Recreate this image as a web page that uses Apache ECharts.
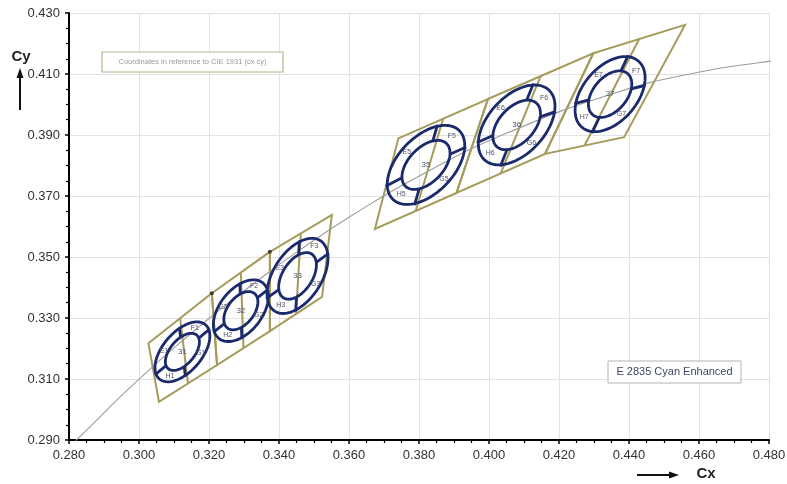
<!DOCTYPE html>
<html>
<head>
<meta charset="utf-8" />
<title>E 2835 Cyan Enhanced</title>
<script src="https://cdn.jsdelivr.net/npm/echarts@6/dist/echarts.min.js"></script>
<style>
  html, body { margin: 0; padding: 0; background: #fff; }
  #chart { width: 787px; height: 484px; }
</style>
</head>
<body>
<div id="chart"></div>
<script>
// planckian locus
var locusX = [0.2807, 0.2867, 0.2952, 0.3064, 0.3135, 0.3221, 0.3324, 0.3451, 0.3608, 0.3805, 0.4053, 0.4369, 0.4599, 0.4770, 0.4865];
var locusY = [0.2884, 0.2951, 0.3048, 0.3166, 0.3236, 0.3318, 0.3410, 0.3516, 0.3636, 0.3768, 0.3907, 0.4041, 0.4106, 0.4137, 0.4148];

// bin quadrangles (olive) - corner points along the top and bottom edge of each group
var leftTopX = [0.3027, 0.3208, 0.3374, 0.3551];
var leftTopY = [0.3217, 0.3381, 0.3517, 0.3638];
var leftBotX = [0.3057, 0.3223, 0.3374, 0.3523];
var leftBotY = [0.3025, 0.3146, 0.3257, 0.3369];
var rightTopX = [0.3741, 0.3997, 0.4298, 0.4560];
var rightTopY = [0.3889, 0.4018, 0.4168, 0.4261];
var rightBotX = [0.3674, 0.3907, 0.4160, 0.4386];
var rightBotY = [0.3592, 0.3710, 0.3838, 0.3893];

// ellipse rings (blue): centre and the two half axes of the outer ellipse (x,y offsets)
var binNames = ['31', '32', '33', '35', '36', '37'];
var subNames = [
  ['E1', 'F1', 'G1', 'H1'],
  ['E2', 'F2', 'G2', 'H2'],
  ['E3', 'F3', 'G3', 'H3'],
  ['E5', 'F5', 'G5', 'H5'],
  ['E6', 'F6', 'G6', 'H6'],
  ['E7', 'F7', 'G7', 'H7']
];
var centerX = [0.3124, 0.3291, 0.3453, 0.3820, 0.4079, 0.4346];
var centerY = [0.3189, 0.3324, 0.3438, 0.3802, 0.3933, 0.4034];
var majorX = [0.00658, 0.00623, 0.00653, 0.00945, 0.00917, 0.00807];
var majorY = [0.00890, 0.00915, 0.01155, 0.01131, 0.01148, 0.01085];
var minorX = [-0.00427, -0.00479, -0.00575, -0.00577, -0.00600, -0.00591];
var minorY = [0.00416, 0.00430, 0.00429, 0.00635, 0.00631, 0.00579];
// spokes (right, top, left, bottom) as angles on the ellipse, degrees
var spokeT = [
  [-17.3, 63.1, 162.7, 243.1],
  [-22.5, 54.4, 157.5, 234.4],
  [-33.9, 45.3, 146.1, 225.3],
  [-34.9, 42.0, 150.7, 222.0],
  [-42.1, 31.9, 144.1, 212.7],
  [-48.8, 23.9, 132.3, 203.9]
];
var innerRatio = 0.62;

var BLUE = '#1a2a6c';
var OLIVE = '#a59c5c';

var locusData = [];
for (var i = 0; i < locusX.length; i++) locusData.push([locusX[i], locusY[i]]);

// small dark marks where the bin borders meet the top edge (left group)
var markData = [[leftTopX[1], leftTopY[1]], [leftTopX[2], leftTopY[2]]];

// one item per bin: corners tl, tr, br, bl
var quads = [];
function addGroup(tx, ty, bx, by) {
  for (var k = 0; k < tx.length - 1; k++) {
    quads.push([[tx[k], ty[k]], [tx[k + 1], ty[k + 1]], [bx[k + 1], by[k + 1]], [bx[k], by[k]]]);
  }
}
addGroup(leftTopX, leftTopY, leftBotX, leftBotY);
addGroup(rightTopX, rightTopY, rightBotX, rightBotY);
var quadData = quads.map(function (q, k) { return [q[0][0], q[0][1], k]; });
var ringData = centerX.map(function (x, k) { return [x, centerY[k], k]; });

function quadItem(params, api) {
  var q = quads[api.value(2)];
  var pts = q.map(function (p) { return api.coord(p); });
  var mt = api.coord([(q[0][0] + q[1][0]) / 2, (q[0][1] + q[1][1]) / 2]);
  var mb = api.coord([(q[3][0] + q[2][0]) / 2, (q[3][1] + q[2][1]) / 2]);
  return {
    type: 'group',
    children: [
      { type: 'polygon', shape: { points: pts }, style: { fill: 'none', stroke: OLIVE, lineWidth: 2 } },
      { type: 'line', shape: { x1: mt[0], y1: mt[1], x2: mb[0], y2: mb[1] }, style: { stroke: OLIVE, lineWidth: 2 } }
    ]
  };
}

function ringItem(params, api) {
  var i = api.value(2);
  // point on the ellipse at angle t (deg), scaled by k
  function pt(t, k) {
    var r = t * Math.PI / 180, c = Math.cos(r) * k, s = Math.sin(r) * k;
    return api.coord([centerX[i] + c * majorX[i] + s * minorX[i], centerY[i] + c * majorY[i] + s * minorY[i]]);
  }
  function ellipse(k) {
    var pts = [];
    for (var s = 0; s < 360; s += 4) pts.push(pt(s, k));
    return pts;
  }
  var line = { stroke: BLUE, lineWidth: 2.8 };
  var children = [
    { type: 'polygon', shape: { points: ellipse(1) }, style: { fill: 'none', stroke: BLUE, lineWidth: 2.8 } },
    { type: 'polygon', shape: { points: ellipse(innerRatio) }, style: { fill: 'none', stroke: BLUE, lineWidth: 2.8 } }
  ];
  var sp = spokeT[i];
  sp.forEach(function (t) {
    var p1 = pt(t, innerRatio), p2 = pt(t, 1.04);
    children.push({ type: 'line', shape: { x1: p1[0], y1: p1[1], x2: p2[0], y2: p2[1] }, style: line });
  });
  var c = api.coord([centerX[i], centerY[i]]);
  var txt = { fill: '#4d5366', fontFamily: 'Liberation Sans', align: 'center', verticalAlign: 'middle' };
  children.push({ type: 'text', x: c[0], y: c[1], style: Object.assign({ text: binNames[i], fontSize: 8 }, txt) });
  // E between top/left, F right/top, G bottom/right, H left/bottom
  var mids = [(sp[1] + sp[2]) / 2, (sp[0] + sp[1]) / 2, (sp[3] + sp[0] + 360) / 2, (sp[2] + sp[3]) / 2];
  mids.forEach(function (t, k) {
    var p = pt(t, 0.81);
    children.push({ type: 'text', x: p[0], y: p[1], style: Object.assign({ text: subNames[i][k], fontSize: 7 }, txt) });
  });
  return { type: 'group', children: children };
}

function axisCommon(min, max) {
  return {
    type: 'value',
    min: min,
    max: max,
    interval: 0.02,
    axisLine: { show: true, onZero: false, lineStyle: { color: '#000', width: 2 } },
    axisTick: { show: true, length: 4, lineStyle: { color: '#000', width: 1.5 } },
    minorTick: { show: true, splitNumber: 4, length: 3, lineStyle: { color: '#000', width: 1.2 } },
    splitLine: { show: true, lineStyle: { color: '#e2e2e2', width: 1 } },
    axisLabel: {
      color: '#333', fontSize: 13, fontFamily: 'Liberation Sans', margin: 9,
      formatter: function (v) { return v.toFixed(3); }
    }
  };
}

var chart = echarts.init(document.getElementById('chart'));
var option = {
  animation: false,
  backgroundColor: '#fff',
  grid: { left: 69, right: 18, top: 13, bottom: 44, containLabel: false, outerBoundsMode: 'none' },
  xAxis: axisCommon(0.28, 0.48),
  yAxis: axisCommon(0.29, 0.43),
  series: [
    { type: 'custom', z: 2, renderItem: quadItem, data: quadData, encode: { x: 0, y: 1 }, silent: true },
    {
      type: 'line', z: 3, data: locusData, showSymbol: false, smooth: true, clip: true,
      lineStyle: { color: '#9c9c9c', width: 1.1 }, silent: true
    },
    { type: 'custom', z: 4, renderItem: ringItem, data: ringData, encode: { x: 0, y: 1 }, silent: true },
    { type: 'scatter', z: 5, data: markData, symbolSize: 4, itemStyle: { color: '#222' }, silent: true }
  ],
  graphic: [
    { type: 'rect', z: 100, shape: { x: 102, y: 52, width: 181, height: 20 }, style: { fill: '#fff', stroke: '#b9b18c', lineWidth: 1.2 } },
    { type: 'text', z: 101, x: 192.5, y: 62, style: { text: 'Coordinates in reference to CIE 1931 (cx cy)', fill: '#9a9a9a', fontSize: 7.5, fontFamily: 'Liberation Sans', align: 'center', verticalAlign: 'middle' } },
    { type: 'rect', z: 100, shape: { x: 608, y: 361, width: 133, height: 22 }, style: { fill: '#fff', stroke: '#b3b3b3', lineWidth: 1 } },
    { type: 'text', z: 101, x: 674.5, y: 372, style: { text: 'E 2835 Cyan Enhanced', fill: '#3d4a63', fontSize: 11, fontFamily: 'Liberation Sans', align: 'center', verticalAlign: 'middle' } },
    { type: 'text', z: 101, x: 21, y: 57, style: { text: 'Cy', fill: '#222', fontSize: 15, fontWeight: 'bold', fontFamily: 'Liberation Sans', align: 'center', verticalAlign: 'middle' } },
    { type: 'line', z: 101, shape: { x1: 20, y1: 110, x2: 20, y2: 76 }, style: { stroke: '#111', lineWidth: 2 } },
    { type: 'polygon', z: 101, shape: { points: [[20, 68], [16.5, 78], [23.5, 78]] }, style: { fill: '#111' } },
    { type: 'text', z: 101, x: 706, y: 474, style: { text: 'Cx', fill: '#222', fontSize: 15, fontWeight: 'bold', fontFamily: 'Liberation Sans', align: 'center', verticalAlign: 'middle' } },
    { type: 'line', z: 101, shape: { x1: 637, y1: 475, x2: 671, y2: 475 }, style: { stroke: '#111', lineWidth: 2 } },
    { type: 'polygon', z: 101, shape: { points: [[679, 475], [669, 471.5], [669, 478.5]] }, style: { fill: '#111' } }
  ]
};
chart.setOption(option);
</script>
</body>
</html>
